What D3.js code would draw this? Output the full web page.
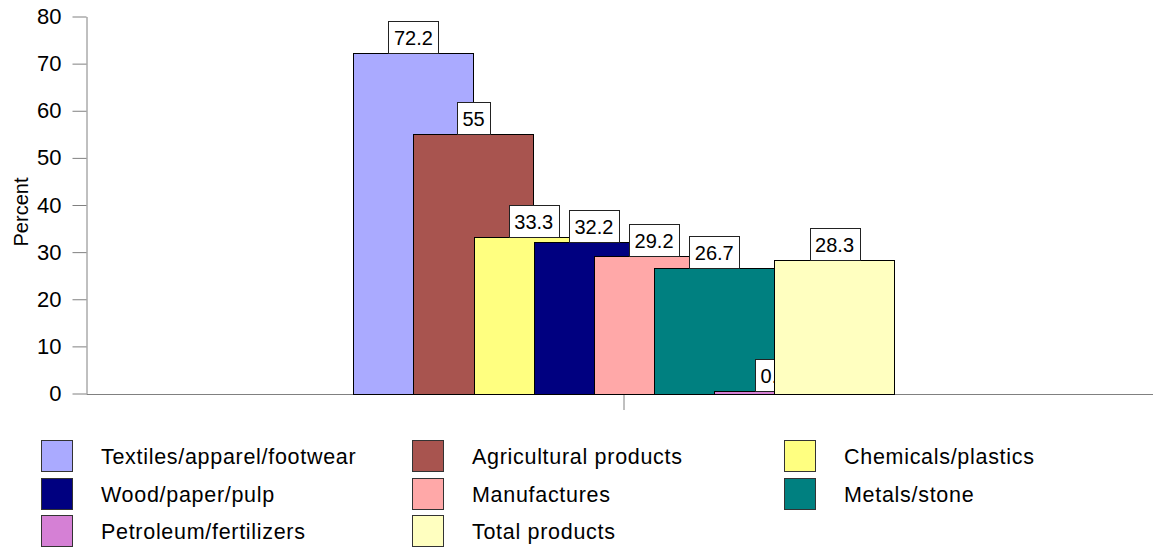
<!DOCTYPE html>
<html>
<head>
<meta charset="utf-8">
<script src="https://cdn.jsdelivr.net/npm/d3@7"></script>
<style>
  html, body { margin: 0; padding: 0; background: #fff; }
  svg { display: block; font-family: "Liberation Sans", Arial, sans-serif; }
</style>
</head>
<body>
<svg id="chart" width="1153" height="550"></svg>
<script>
// Product groups, their share in percent, and fill colours
const categories = [
  "Textiles/apparel/footwear", "Agricultural products", "Chemicals/plastics",
  "Wood/paper/pulp", "Manufactures", "Metals/stone",
  "Petroleum/fertilizers", "Total products"
];
const values = [72.2, 55, 33.3, 32.2, 29.2, 26.7, 0.5, 28.3];
const labels = ["72.2", "55", "33.3", "32.2", "29.2", "26.7", "0.5", "28.3"];
const colors = [
  "#AAAAFF", "#A8544F", "#FFFF80", "#000080",
  "#FFA8A8", "#008080", "#D580D5", "#FFFFC0"
];
const yTicks = [0, 10, 20, 30, 40, 50, 60, 70, 80];
const yTitle = "Percent";

const svg = d3.select("#chart");

// Scales
const y = d3.scaleLinear().domain([0, 80]).range([393.5, 16.5]);
const x0 = d3.scaleBand().domain([""]).range([86, 1162]).paddingInner(0).paddingOuter(0.4935);
const overlap = 0.5;
const barW = x0.bandwidth() / (1 + (categories.length - 1) * (1 - overlap));
const xs = d3.scalePoint().domain(categories).range([0, x0.bandwidth() - barW]);

// Y axis
const yAxis = svg.append("g")
  .attr("transform", "translate(86.5,0)")
  .call(d3.axisLeft(y).tickValues(yTicks).tickSize(14).tickPadding(11).tickSizeOuter(0));
yAxis.select(".domain").attr("stroke", "#808080");
yAxis.selectAll(".tick line").attr("stroke", "#808080");
yAxis.selectAll(".tick text")
  .attr("fill", "#000")
  .style("font-size", "22px")
  .style("font-family", "'Liberation Sans', Arial, sans-serif");

// X axis
const xAxis = svg.append("g")
  .attr("transform", `translate(0,${y(0) + 0.5})`)
  .call(d3.axisBottom(x0).tickSize(16).tickSizeOuter(0).tickFormat(() => ""));
xAxis.select(".domain").attr("stroke", "#808080");
xAxis.selectAll(".tick line").attr("stroke", "#808080");

// Y axis title
svg.append("text")
  .attr("transform", "translate(21,212) rotate(-90)")
  .attr("text-anchor", "middle")
  .attr("dominant-baseline", "central")
  .style("font-size", "20px")
  .text(yTitle);

// Bars, each drawn with its value label so later bars overlap earlier labels
categories.forEach((c, i) => {
  const g = svg.append("g");
  const bx = x0("") + xs(c);
  const by = y(values[i]);
  g.append("rect")
    .attr("x", Math.round(bx) + 0.5)
    .attr("y", Math.round(by) + 0.5)
    .attr("width", Math.round(barW))
    .attr("height", Math.round(y(0)) - Math.round(by))
    .attr("fill", colors[i])
    .attr("stroke", "#000")
    .attr("stroke-width", 1);

  const cx = bx + barW / 2;
  const t = g.append("text")
    .attr("x", cx)
    .attr("text-anchor", "middle")
    .style("font-size", "20px")
    .text(labels[i]);
  const tw = t.node().getComputedTextLength();
  const bh = 32;
  const top = Math.round(by) - bh;
  g.insert("rect", "text")
    .attr("x", Math.round(cx - tw / 2 - 5.5) + 0.5)
    .attr("y", top + 0.5)
    .attr("width", Math.round(tw + 11))
    .attr("height", bh)
    .attr("fill", "#fff")
    .attr("stroke", "#222")
    .attr("stroke-width", 1);
  t.attr("y", top + bh / 2 + 7.5);
});

// Legend: three columns, row-major
const colX = [41, 412, 784];
const rowY = [440, 477.5, 515];
const legend = svg.append("g");
categories.forEach((c, i) => {
  const col = i % 3, row = Math.floor(i / 3);
  const lg = legend.append("g");
  lg.append("rect")
    .attr("x", colX[col] + 0.5)
    .attr("y", Math.round(rowY[row]) + 0.5)
    .attr("width", 31)
    .attr("height", 31)
    .attr("fill", colors[i])
    .attr("stroke", "#333")
    .attr("stroke-width", 1);
  lg.append("text")
    .attr("x", colX[col] + 60)
    .attr("y", rowY[row] + 24)
    .style("font-size", "21.5px")
    .style("letter-spacing", "0.7px")
    .text(c);
});
</script>
</body>
</html>
